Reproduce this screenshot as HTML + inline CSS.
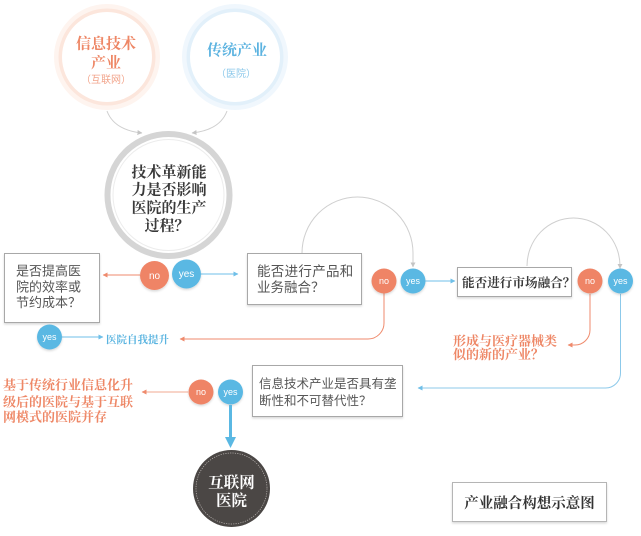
<!DOCTYPE html>
<html>
<head>
<meta charset="utf-8">
<style>
html,body{margin:0;padding:0;background:#fff;}
svg{display:block;}
.serif{font-family:"Liberation Serif","Noto Serif CJK SC",serif;font-weight:bold;}
.sans{font-family:"Liberation Sans","Noto Sans CJK SC",sans-serif;}
</style>
</head>
<body>
<svg width="641" height="536" viewBox="0 0 641 536" xmlns="http://www.w3.org/2000/svg">
<defs>
  <marker id="ag" viewBox="0 0 6 6" refX="5.5" refY="3" markerWidth="5" markerHeight="5" markerUnits="userSpaceOnUse" orient="auto"><path d="M0,0 L6,3 L0,6z" fill="#c4c4c4"/></marker>
  <marker id="ab" viewBox="0 0 6 6" refX="5.5" refY="3" markerWidth="5" markerHeight="5" markerUnits="userSpaceOnUse" orient="auto"><path d="M0,0 L6,3 L0,6z" fill="#6fbfe8"/></marker>
  <marker id="ar" viewBox="0 0 6 6" refX="5.5" refY="3" markerWidth="5" markerHeight="5" markerUnits="userSpaceOnUse" orient="auto"><path d="M0,0 L6,3 L0,6z" fill="#ef8a6c"/></marker>
  <filter id="sh" x="-20%" y="-20%" width="140%" height="150%"><feDropShadow dx="0" dy="1.5" stdDeviation="1" flood-color="#000" flood-opacity="0.15"/></filter>
</defs>

<!-- top circles -->
<circle cx="107" cy="57" r="53" fill="#fef4ef"/>
<circle cx="107" cy="57" r="48.5" fill="#fce6dc"/>
<circle cx="107" cy="57" r="45" fill="#fff"/>
<text class="serif" x="106" y="48.5" font-size="15" fill="#ee8766" text-anchor="middle">信息技术</text>
<text class="serif" x="106" y="67.5" font-size="15" fill="#ee8766" text-anchor="middle">产业</text>
<text class="sans" x="106" y="83" font-size="10" fill="#f2a58c" text-anchor="middle">（互联网）</text>

<circle cx="235" cy="57" r="53" fill="#f0f7fd"/>
<circle cx="235" cy="57" r="48.5" fill="#e2f0fa"/>
<circle cx="235" cy="57" r="45" fill="#fff"/>
<text class="serif" x="237" y="55" font-size="15" fill="#5cb3e0" text-anchor="middle">传统产业</text>
<text class="sans" x="236" y="77" font-size="10" fill="#8cc8ea" text-anchor="middle">（医院）</text>

<!-- gray connectors to center -->
<path d="M107,111 Q114,130 142,133" fill="none" stroke="#cfcfcf" stroke-width="1" marker-end="url(#ag)"/>
<path d="M227,111 Q220,130 192,133" fill="none" stroke="#cfcfcf" stroke-width="1" marker-end="url(#ag)"/>

<!-- center circle -->
<circle cx="168.5" cy="195" r="61" fill="#fff" stroke="#d5d5d5" stroke-width="6"/>
<circle cx="168.5" cy="195" r="55.5" fill="none" stroke="#ececec" stroke-width="1"/>
<g class="serif" font-size="15" fill="#3a3a3a" text-anchor="middle">
<text x="169" y="177">技术革新能</text>
<text x="169" y="194.5">力是否影响</text>
<text x="169" y="212.5">医院的生产</text>
<text x="167" y="230.5">过程？</text>
</g>

<!-- left box -->
<rect x="4.5" y="253.5" width="95" height="69" fill="#fff" stroke="#a8a8a8" filter="url(#sh)"/>
<g class="sans" font-size="13" fill="#555">
<text x="16" y="275.5">是否提高医</text>
<text x="16" y="291.5">院的效率或</text>
<text x="16" y="307">节约成本？</text>
</g>

<!-- top no/yes -->
<line x1="140" y1="275" x2="103" y2="275" stroke="#ef8a6c" stroke-width="1" marker-end="url(#ar)"/>
<line x1="201" y1="274" x2="238" y2="274" stroke="#6fbfe8" stroke-width="1" marker-end="url(#ab)"/>
<circle cx="154.5" cy="275.5" r="14.5" fill="#ef8466" filter="url(#sh)"/>
<circle cx="186.5" cy="274" r="14.5" fill="#5ab8e3" filter="url(#sh)"/>
<text class="sans" x="154.5" y="279" font-size="10" fill="#fff" text-anchor="middle">no</text>
<text class="sans" x="186.5" y="277" font-size="10" fill="#fff" text-anchor="middle">yes</text>

<!-- middle box -->
<path d="M302,253 A55.5,56 0 0 1 413,253 L413,267" fill="none" stroke="#cfcfcf" stroke-width="1" marker-end="url(#ag)"/>
<rect x="247.5" y="253.5" width="114" height="51" fill="#fff" stroke="#a8a8a8" filter="url(#sh)"/>
<g class="sans" font-size="13.5" fill="#555">
<text x="257" y="276" letter-spacing="0.3">能否进行产品和</text>
<text x="257" y="292">业务融合？</text>
</g>

<!-- red from middle no -->
<path d="M384,293 L384,323 A16,16 0 0 1 368,339 L180,339" fill="none" stroke="#ef8a6c" stroke-width="1" marker-end="url(#ar)"/>
<circle cx="384" cy="281" r="12.5" fill="#ef8466" filter="url(#sh)"/>
<circle cx="413" cy="281" r="12.5" fill="#5ab8e3" filter="url(#sh)"/>
<text class="sans" x="384" y="284" font-size="9" fill="#fff" text-anchor="middle">no</text>
<text class="sans" x="413" y="284" font-size="9" fill="#fff" text-anchor="middle">yes</text>
<line x1="425.5" y1="281" x2="455" y2="281" stroke="#6fbfe8" stroke-width="1" marker-end="url(#ab)"/>

<!-- right box -->
<path d="M527,266 A46.5,48 0 0 1 620,266 L620,268.5" fill="none" stroke="#cfcfcf" stroke-width="1" marker-end="url(#ag)"/>
<rect x="457.5" y="267.5" width="114" height="29" fill="#fff" stroke="#a8a8a8" filter="url(#sh)"/>
<text class="serif" x="462" y="287" font-size="12.6" fill="#3a3a3a">能否进行市场融合？</text>

<path d="M590,294 L590,330 A15,15 0 0 1 575,345 L568,345" fill="none" stroke="#ef8a6c" stroke-width="1" marker-end="url(#ar)"/>
<path d="M620.5,294 L620.5,373 A15,15 0 0 1 605.5,388 L418,388" fill="none" stroke="#8cc9ea" stroke-width="1" marker-end="url(#ab)"/>
<circle cx="590" cy="281" r="12.5" fill="#ef8466" filter="url(#sh)"/>
<circle cx="620.5" cy="281" r="12.5" fill="#5ab8e3" filter="url(#sh)"/>
<text class="sans" x="590" y="284" font-size="9" fill="#fff" text-anchor="middle">no</text>
<text class="sans" x="620.5" y="284" font-size="9" fill="#fff" text-anchor="middle">yes</text>

<g class="serif" font-size="13" fill="#ee8766">
<text x="453" y="345.5">形成与医疗器械类</text>
<text x="453" y="359">似的新的产业？</text>
</g>

<!-- bottom-left yes -->
<line x1="62" y1="337" x2="103" y2="337" stroke="#6fbfe8" stroke-width="1" marker-end="url(#ab)"/>
<circle cx="49.5" cy="337" r="12.5" fill="#5ab8e3" filter="url(#sh)"/>
<text class="sans" x="49.5" y="340" font-size="9" fill="#fff" text-anchor="middle">yes</text>
<text class="serif" x="106" y="343" font-size="10.5" fill="#5ab4e0">医院自我提升</text>

<!-- bottom box -->
<rect x="252.5" y="365.5" width="150" height="51" fill="#fff" stroke="#a8a8a8" filter="url(#sh)"/>
<g class="sans" font-size="12.5" fill="#555">
<text x="259" y="388">信息技术产业是否具有垄</text>
<text x="259" y="405">断性和不可替代性？</text>
</g>

<line x1="188" y1="392" x2="142" y2="392" stroke="#f2a892" stroke-width="1" marker-end="url(#ar)"/>
<circle cx="201" cy="392" r="12.5" fill="#ef8466" filter="url(#sh)"/>
<circle cx="230.5" cy="392" r="12.5" fill="#5ab8e3" filter="url(#sh)"/>
<text class="sans" x="201" y="395" font-size="9" fill="#fff" text-anchor="middle">no</text>
<text class="sans" x="230.5" y="395" font-size="9" fill="#fff" text-anchor="middle">yes</text>

<g class="serif" font-size="13" fill="#ee8766">
<text x="3" y="389.5">基于传统行业信息化升</text>
<text x="3" y="406.5">级后的医院与基于互联</text>
<text x="3" y="421.5">网模式的医院并存</text>
</g>

<!-- thick blue arrow -->
<line x1="230.5" y1="405" x2="230.5" y2="438" stroke="#5ab8e3" stroke-width="3"/>
<path d="M225,437 L236,437 L230.5,448 Z" fill="#5ab8e3"/>

<!-- dark circle -->
<circle cx="231.5" cy="488.5" r="38.5" fill="#4b4745"/>
<circle cx="231.5" cy="488.5" r="35.5" fill="none" stroke="#bdb8b5" stroke-width="0.7" stroke-dasharray="1.2 1.2"/>
<g class="serif" font-size="15.5" fill="#fff" text-anchor="middle">
<text x="231.5" y="487.5">互联网</text>
<text x="231.5" y="505.5">医院</text>
</g>

<!-- title box -->
<rect x="452.5" y="482.5" width="154" height="39" fill="#fff" stroke="#b5b5b5" filter="url(#sh)"/>
<text class="serif" x="529.5" y="508" font-size="14.5" fill="#333" text-anchor="middle">产业融合构想示意图</text>
</svg>
</body>
</html>
